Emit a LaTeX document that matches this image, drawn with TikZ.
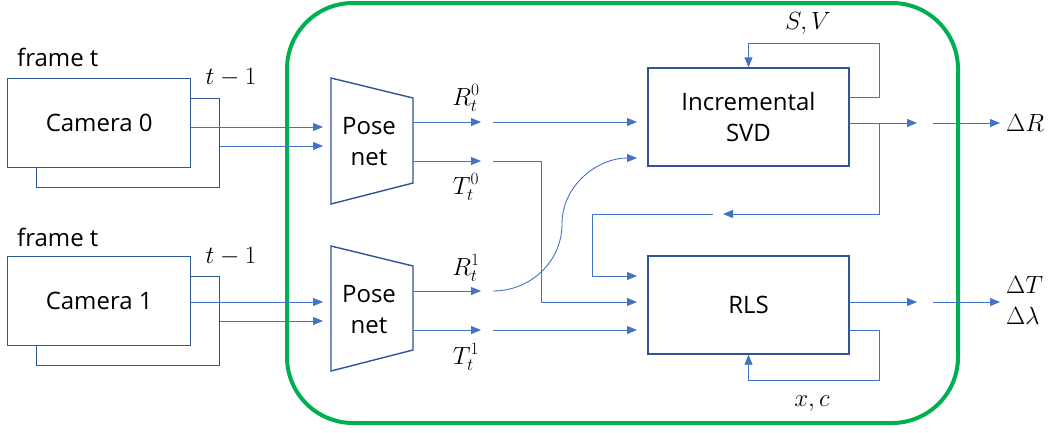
\documentclass[tikz,border=0pt]{standalone}
\usepackage{fontspec}
\setmainfont{Open Sans}
\usetikzlibrary{arrows.meta}
\definecolor{lineblue}{HTML}{4472C4}
\definecolor{boxblue}{HTML}{2F5597}
\definecolor{grn}{HTML}{00B050}
\begin{document}
\begin{tikzpicture}[x=1pt,y=-1pt,
  conn/.style={draw=lineblue, line width=0.9pt},
  arr/.style={conn, -{Triangle[length=10pt,width=8pt]}},
  box/.style={draw=boxblue, line width=1.4pt, fill=white},
  cam/.style={box, minimum width=183pt, minimum height=89pt, inner sep=0pt, anchor=north west, font=\fontsize{24}{30}\selectfont},
  blk/.style={box, minimum width=201pt, minimum height=98pt, inner sep=0pt, align=center, font=\fontsize{24}{31}\selectfont},
  lbl/.style={inner sep=0pt, font=\fontsize{24}{30}\selectfont},
  mlbl/.style={inner sep=0pt, font=\fontsize{24}{30}\selectfont}]
\useasboundingbox (0,0) rectangle (1051,432);
% green frame
\draw[draw=grn, line width=4pt, rounded corners=66pt] (287,3) rectangle (958,423);

% cameras
\node[cam] (c0b) at (36,98) {};
\node[cam] (c0f) at (7,78) {Camera 0};
\node[lbl, anchor=west] (f0) at (17,57) {frame t};
\node[mlbl] (t0) at (231,78) {$t-1$};
\node[cam] (c1b) at (36,276) {};
\node[cam] (c1f) at (7,256) {Camera 1};
\node[lbl, anchor=west] (f1) at (17,237) {frame t};
\node[mlbl] (t1) at (231,257) {$t-1$};

% pose nets
\draw[box] (331,78) -- (413,98) -- (413,183) -- (331,204) -- cycle;
\node[lbl, align=center, font=\fontsize{24}{31}\selectfont] (p0) at (369,142) {Pose\\net};
\draw[box] (331,246) -- (413,266) -- (413,350) -- (331,371) -- cycle;
\node[lbl, align=center, font=\fontsize{24}{31}\selectfont] (p1) at (369,310) {Pose\\net};

% blocks
\node[blk] (svd) at (748.5,117) {Incremental\\SVD};
\node[blk] (rls) at (748.5,305) {RLS};

% coordinates
\coordinate (p0i1) at (323,127);
\coordinate (p0i2) at (323,146);
\coordinate (p1i1) at (323,302);
\coordinate (p1i2) at (323,321);
\coordinate (p0r) at (413,122);
\coordinate (p0t) at (413,161);
\coordinate (p1r) at (413,291);
\coordinate (p1t) at (413,330);
\coordinate (r0a) at (481,122);
\coordinate (r0b) at (493,122);
\coordinate (t0a) at (481,161);
\coordinate (t0b) at (493,161);
\coordinate (r1a) at (481,291);
\coordinate (r1b) at (493,291);
\coordinate (t1a) at (481,330);
\coordinate (t1b) at (493,330);
\coordinate (svdi1) at (637,122);
\coordinate (svdi2) at (637,158);
\coordinate (rlsi1) at (637,276);
\coordinate (rlsi2) at (637,302);
\coordinate (rlsi3) at (637,330);
\coordinate (mid) at (562,224);
\coordinate (svdfb) at (849,97);
\coordinate (svdo) at (849,123);
\coordinate (svdoa) at (917,123);
\coordinate (svdob) at (933,123);
\coordinate (dR) at (1000,123);
\coordinate (br) at (879,123);
\coordinate (ba) at (723,214);
\coordinate (bb) at (713,214);
\coordinate (rlso) at (849,302);
\coordinate (rlsoa) at (917,302);
\coordinate (rlsob) at (933,302);
\coordinate (dT) at (1000,302);
\coordinate (rlsfb) at (849,330);

% camera -> pose net
\draw[arr] (c0f.east |- p0i1) -- (p0i1);
\draw[arr] (c0b.east |- p0i2) -- (p0i2);
\draw[arr] (c1f.east |- p1i1) -- (p1i1);
\draw[arr] (c1b.east |- p1i2) -- (p1i2);

% pose net outputs
\draw[arr] (p0r) -- (r0a);
\draw[arr] (r0b) -- (svdi1);
\draw[arr] (p0t) -- (t0a);
\draw[arr] (t0b) -- (541,161) -- (541,302) -- (rlsi2);
\draw[arr] (p1r) -- (r1a);
\draw[arr] (r1b) to[out=0,in=-90] (mid) to[out=90,in=180] (svdi2);
\draw[arr] (p1t) -- (t1a);
\draw[arr] (t1b) -- (rlsi3);

\node[mlbl] (lr0) at (466,98) {$R_t^0$};
\node[mlbl] (lt0) at (466,187) {$T_t^0$};
\node[mlbl] (lr1) at (466,268) {$R_t^1$};
\node[mlbl] (lt1) at (466,357) {$T_t^1$};

% SVD feedback and outputs
\draw[arr] (svdfb) -- (879,97) -- (879,43) -- (svd.north |- 0,43) -- (svd.north);
\node[mlbl] (sv) at (808,23) {$S,V$};
\draw[arr] (svdo) -- (svdoa);
\draw[arr] (svdob) -- (dR);
\node[mlbl, anchor=west] (ldR) at (1006,123) {$\Delta R$};
\draw[arr] (br) -- (879,214) -- (ba);
\draw[arr] (bb) -- (592,214) -- (592,276) -- (rlsi1);

% RLS feedback and outputs
\draw[arr] (rlso) -- (rlsoa);
\draw[arr] (rlsob) -- (dT);
\node[mlbl, anchor=west] (ldT) at (1006,285) {$\Delta T$};
\node[mlbl, anchor=west] (ldl) at (1006,316) {$\Delta\lambda$};
\draw[arr] (rlsfb) -- (879,330) -- (879,380) -- (rls.south |- 0,380) -- (rls.south);
\node[mlbl] (xc) at (812,404) {$x,c$};
\end{tikzpicture}
\end{document}
